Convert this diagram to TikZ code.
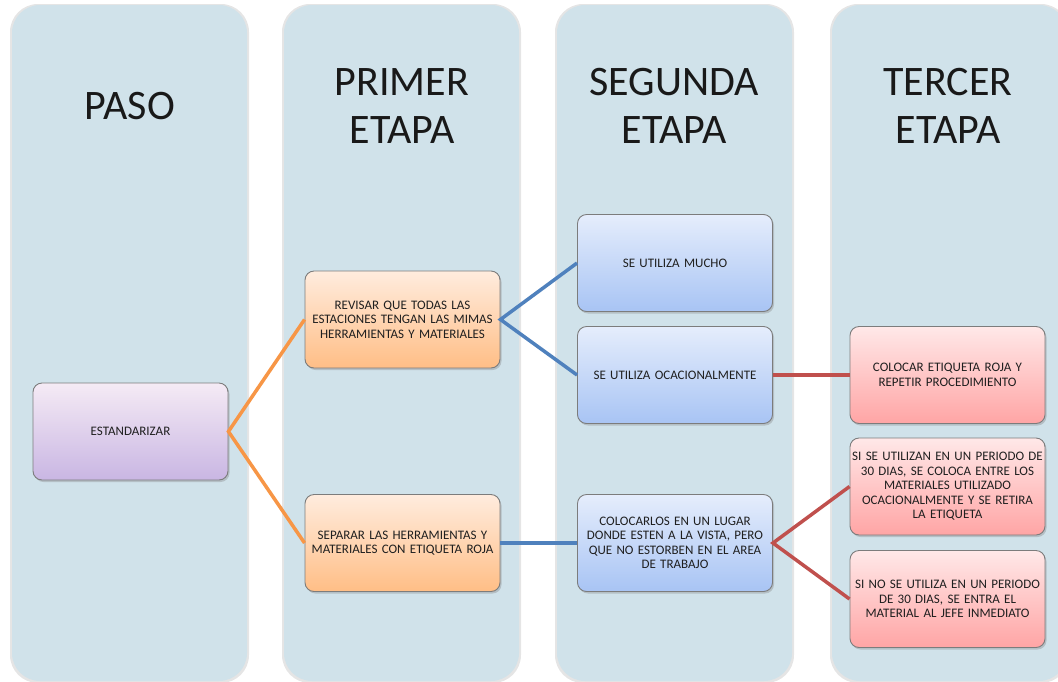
\documentclass[tikz,border=0pt]{standalone}
\usepackage{fontspec}
\setmainfont{Carlito}
\usetikzlibrary{shadows}
\definecolor{colfondo}{HTML}{D0E2EA}
\definecolor{borde}{HTML}{7C7C7C}
\definecolor{lineanaranja}{HTML}{F79646}
\definecolor{lineaazul}{HTML}{4F81BD}
\definecolor{linearoja}{HTML}{C0504D}

\begin{document}
\begin{tikzpicture}[x=1pt,y=-1pt,
		columna/.style={fill=colfondo,rounded corners=28pt},
		sombracol/.style={fill=black,opacity=0.10,rounded corners=28pt},
		titulo/.style={font=\fontsize{42}{48}\selectfont,align=center,text=black!90},
		caja/.style={draw=borde,line width=0.9pt,rounded corners=9pt,minimum width=195pt,minimum height=97pt,
			text width=195pt,inner sep=0pt,align=center,text=black!88,font=\fontsize{13}{14.5}\selectfont,
			drop shadow={shadow xshift=1.5pt,shadow yshift=-2pt,opacity=0.35}},
		morada/.style={caja,top color=violet!8!white,bottom color={rgb,255:red,201;green,182;blue,227}},
		naranja/.style={caja,top color={rgb,255:red,255;green,236;blue,222},bottom color={rgb,255:red,255;green,190;blue,134}},
		azul/.style={caja,top color={rgb,255:red,229;green,237;blue,252},bottom color={rgb,255:red,168;green,196;blue,244}},
		roja/.style={caja,top color={rgb,255:red,255;green,232;blue,232},bottom color={rgb,255:red,255;green,165;blue,165}},
		conector/.style={line width=3.5pt}]
		\useasboundingbox (0,0) rectangle (1058,681);
		\clip (0,0) rectangle (1058,681);
		\fill[white] (0,0) rectangle (1058,681);
		\foreach \x in {12,284,557,832}{
			\fill[sombracol] (\x-2,4) rectangle (\x+237,683);
			\fill[columna] (\x,5) rectangle (\x+235,681);
		}
		\node[titulo] (tpaso) at (130,106) {PASO};
		\node[titulo] (tprimer) at (402,106) {PRIMER\\ETAPA};
		\node[titulo] (tsegunda) at (674,106) {SEGUNDA\\ETAPA};
		\node[titulo] (ttercer) at (948,106) {TERCER\\ETAPA};

		\node[morada] (estandarizar) at (130.5,431.5) {ESTANDARIZAR};
		\node[naranja] (revisar) at (402.5,319.5) {REVISAR QUE TODAS LAS\\ESTACIONES TENGAN LAS MIMAS\\HERRAMIENTAS Y MATERIALES};
		\node[naranja] (separar) at (402.5,543) {SEPARAR LAS HERRAMIENTAS Y\\MATERIALES CON ETIQUETA ROJA};
		\node[azul] (mucho) at (675,263) {SE UTILIZA MUCHO};
		\node[azul] (ocasional) at (675,375) {SE UTILIZA OCACIONALMENTE};
		\node[azul] (colocarlos) at (675,543) {COLOCARLOS EN UN LUGAR\\DONDE ESTEN A LA VISTA, PERO\\QUE NO ESTORBEN EN EL AREA\\DE TRABAJO};
		\node[roja] (etiqueta) at (947.5,375) {COLOCAR ETIQUETA ROJA Y\\REPETIR PROCEDIMIENTO};
		\node[roja] (siutilizan) at (947.5,486.5) {SI SE UTILIZAN EN UN PERIODO DE\\30 DIAS, SE COLOCA ENTRE LOS\\MATERIALES UTILIZADO\\OCACIONALMENTE Y SE RETIRA\\LA ETIQUETA};
		\node[roja] (noutiliza) at (947.5,599) {SI NO SE UTILIZA EN UN PERIODO\\DE 30 DIAS, SE ENTRA EL\\MATERIAL AL JEFE INMEDIATO};

		\draw[conector,color=lineanaranja] (revisar.west) -- (estandarizar.east) -- (separar.west);
		\draw[conector,color=lineaazul] (mucho.west) -- (revisar.east) -- (ocasional.west);
		\draw[conector,color=lineaazul] (separar.east) -- (colocarlos.west);
		\draw[conector,color=linearoja] (ocasional.east) -- (etiqueta.west);
		\draw[conector,color=linearoja] (siutilizan.west) -- (colocarlos.east) -- (noutiliza.west);
	\end{tikzpicture}
\end{document}
